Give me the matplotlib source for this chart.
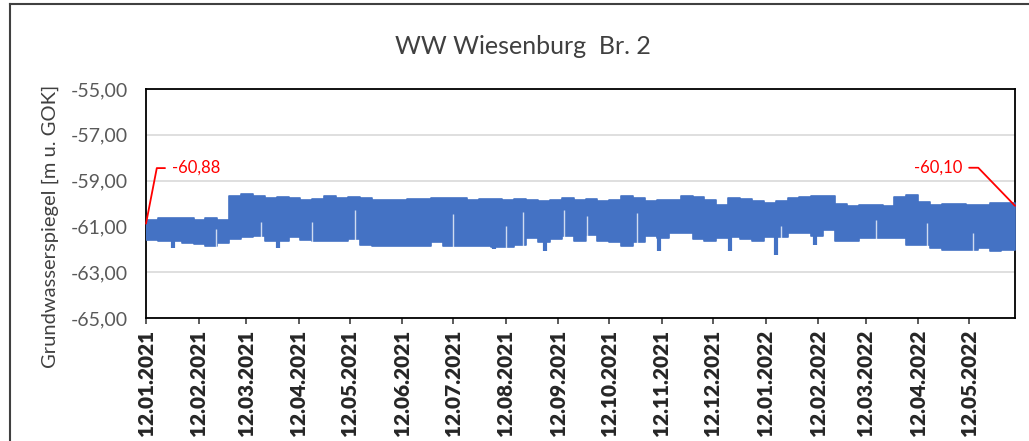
import pandas as pd
import numpy as np
import matplotlib.pyplot as plt
from matplotlib.lines import Line2D

plt.rcParams['font.family'] = ['Lato', 'DejaVu Sans']

# Groundwater level WW Wiesenburg Br. 2, weekly max / min of the logger [m u. GOK]
start = "2021-01-12"
end = "2022-06-08"
level_max = [-60.70, -60.63, -60.62, -60.63, -60.72, -60.65, -60.72, -59.68, -59.57, -59.68,
             -59.76, -59.72, -59.74, -59.83, -59.80, -59.68, -59.75, -59.72, -59.78, -59.84,
             -59.83, -59.83, -59.80, -59.80, -59.78, -59.78, -59.78, -59.85, -59.80, -59.80,
             -59.85, -59.80, -59.83, -59.88, -59.83, -59.78, -59.83, -59.80, -59.88, -59.83,
             -59.66, -59.78, -59.88, -59.83, -59.83, -59.68, -59.70, -59.83, -60.06, -59.78,
             -59.80, -59.88, -59.98, -59.88, -59.76, -59.72, -59.69, -59.66, -60.02, -60.09,
             -60.07, -60.06, -60.09, -59.70, -59.62, -59.92, -60.05, -60.00, -60.02, -60.05,
             -60.05, -59.99, -59.99]
level_min = [-61.58, -61.62, -61.65, -61.72, -61.75, -61.87, -61.72, -61.55, -61.45, -61.40,
             -61.65, -61.65, -61.45, -61.58, -61.62, -61.65, -61.65, -61.55, -61.80, -61.87,
             -61.87, -61.87, -61.84, -61.84, -61.70, -61.87, -61.84, -61.84, -61.84, -61.90,
             -61.92, -61.80, -61.50, -61.70, -61.55, -61.40, -61.65, -61.36, -61.65, -61.70,
             -61.87, -61.70, -61.40, -61.50, -61.29, -61.29, -61.55, -61.62, -61.50, -61.45,
             -61.55, -61.62, -61.45, -61.45, -61.30, -61.29, -61.40, -61.15, -61.65, -61.65,
             -61.50, -61.50, -61.50, -61.50, -61.80, -61.82, -61.95, -62.02, -62.02, -62.02,
             -61.95, -62.09, -62.02]

# short drawdowns below the weekly minimum
dip_dates = ["2021-01-28", "2021-03-31", "2021-08-05", "2021-09-04", "2021-11-10",
             "2021-12-22", "2022-01-18", "2022-02-10"]
dip_values = [-61.95, -61.95, -61.98, -62.09, -62.09, -62.09, -62.23, -61.80]

# short periods where the level did not drop (gaps in the band)
gap_dates = ["2021-02-22", "2021-03-21", "2021-04-20", "2021-05-15", "2021-07-12",
             "2021-08-12", "2021-08-22", "2021-09-15", "2021-09-29", "2021-10-28",
             "2022-01-21", "2022-03-18", "2022-04-17", "2022-05-14"]
gap_values = [-61.10, -60.80, -60.80, -60.30, -60.48, -60.99, -60.38, -60.27, -60.56,
              -60.42, -60.99, -60.71, -60.85, -61.29]

first_value = -60.88
last_value = -60.10

tick_dates = pd.date_range("2021-01-01", "2022-05-01", freq="MS") + pd.Timedelta(days=11)
tick_labels = [d.strftime("%d.%m.%Y") for d in tick_dates]

weeks = pd.date_range(start, periods=len(level_max), freq="7D")
dates = weeks.append(pd.DatetimeIndex([end]))
upper = level_max + [level_max[-1]]
lower = level_min + [level_min[-1]]

blue = "#4472C4"

fig = plt.figure(figsize=(10.29, 4.41), dpi=100)
ax = fig.add_axes([146 / 1029, 1 - 318 / 441, (1015 - 146) / 1029, (318 - 89) / 441])

ax.fill_between(dates, lower, upper, step="post", color=blue, lw=1.2, edgecolor=blue,
                joinstyle="round", zorder=3)
ax.vlines(pd.to_datetime(dip_dates), -61.0, dip_values, color=blue, lw=3, zorder=3)
ax.vlines(pd.to_datetime(gap_dates), -62.15, gap_values, color="white", lw=1.0, alpha=0.75, zorder=4)

ax.set_ylim(-65, -55)
ax.set_xlim(pd.Timestamp(start), pd.Timestamp(end))
ax.set_yticks(np.arange(-65, -54, 2))
ax.set_yticklabels([f"{v:.2f}".replace(".", ",") for v in np.arange(-65, -54, 2)])
ax.tick_params(axis="y", length=0, pad=13, labelsize=14, labelcolor="#595959")
ax.set_xticks(tick_dates)
ax.set_xticklabels(tick_labels, rotation=90, fontsize=15, fontweight="heavy", color="#262626")
ax.tick_params(axis="x", length=4, width=1.2, pad=4.5, color="#404040")
ax.grid(axis="y", color="#D9D9D9", lw=1.2)
ax.set_axisbelow(True)
for s in ax.spines.values():
    s.set_linewidth(1.3)
    s.set_color("black")

ax.annotate("-60,88", xy=(pd.Timestamp(start), first_value), xytext=(18.7, 40),
            textcoords="offset points", color="red", fontsize=12, ha="left", va="center",
            annotation_clip=False,
            arrowprops=dict(arrowstyle="-", color="red", lw=1.3, shrinkA=3, shrinkB=0,
                            relpos=(0, 0.5), connectionstyle="angle,angleA=0,angleB=79,rad=0"))
ax.annotate("-60,10", xy=(pd.Timestamp(end), last_value), xytext=(-38, 27.4),
            textcoords="offset points", color="red", fontsize=12, ha="right", va="center",
            annotation_clip=False,
            arrowprops=dict(arrowstyle="-", color="red", lw=1.3, shrinkA=3, shrinkB=0,
                            relpos=(1, 0.5), connectionstyle="angle,angleA=0,angleB=134,rad=0"))

fig.text(523 / 1029, 1 - 47 / 441, "WW Wiesenburg  Br. 2", ha="center", va="center",
         fontsize=18, color="#404040")
fig.text(50 / 1029, 1 - 226 / 441, "Grundwasserspiegel [m u. GOK]", rotation=90,
         ha="center", va="center", fontsize=14.5, color="#404040")

# chart area border
fig.add_artist(Line2D([9.5 / 1029, 9.5 / 1029], [0, 1 - 4 / 441], color="#404040", lw=1.5))
fig.add_artist(Line2D([9.5 / 1029, 1], [1 - 4 / 441, 1 - 4 / 441], color="#404040", lw=1.5))

fig.savefig("out.png", dpi=100)
